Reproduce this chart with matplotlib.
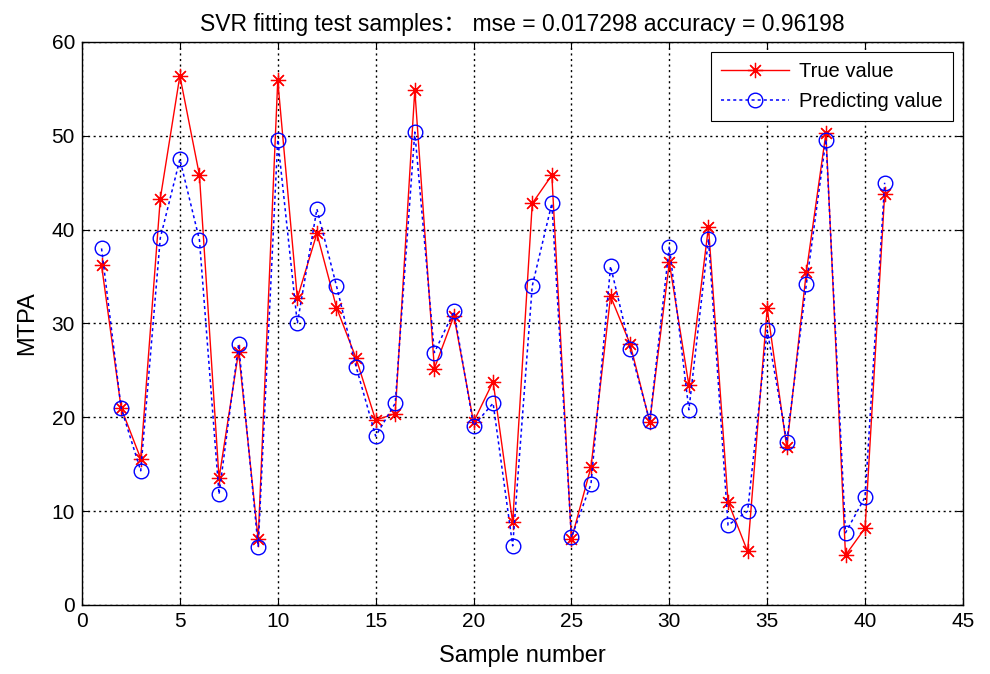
import numpy as np
import matplotlib
matplotlib.use('Agg')
from matplotlib import pyplot as plt

plt.rcParams['font.family'] = ['Liberation Sans', 'Noto Sans CJK SC', 'DejaVu Sans']

# Sample index and values
samples = list(range(1, 42))
true_value = [36.2, 21.0, 15.6, 43.3, 56.4, 45.8, 13.5, 27.0, 7.0, 55.9,
              32.7, 39.6, 31.7, 26.3, 19.7, 20.4, 54.9, 25.2, 30.8, 19.5,
              23.8, 8.8, 42.8, 45.8, 7.0, 14.7, 32.9, 27.8, 19.5, 36.5,
              23.4, 40.3, 11.0, 5.7, 31.6, 16.8, 35.5, 50.3, 5.3, 8.2,
              43.8]
predicting_value = [38.0, 21.0, 14.3, 39.1, 47.5, 38.9, 11.8, 27.8, 6.2, 49.6,
                    30.0, 42.2, 34.0, 25.4, 18.0, 21.5, 50.4, 26.9, 31.3, 19.1,
                    21.5, 6.3, 34.0, 42.8, 7.2, 12.9, 36.1, 27.3, 19.6, 38.2,
                    20.8, 39.0, 8.5, 10.0, 29.3, 17.4, 34.2, 49.6, 7.7, 11.5,
                    45.0]

fig = plt.figure(figsize=(9.9, 6.74), dpi=100)
ax = fig.add_axes([0.0828, 0.1024, 0.8899, 0.8353])

# MATLAB-style asterisk: 8 spokes
ax.plot(samples, true_value, color='red', linestyle='-', linewidth=1.0,
        marker=(8, 2, 0), markersize=11, markeredgewidth=0.9, label='True value')
ax.plot(samples, predicting_value, color='blue', linestyle=(0, (2, 2)), linewidth=1.1,
        marker='o', markersize=10.5, markerfacecolor='none', markeredgewidth=1.0,
        label='Predicting value')

ax.set_xlim(0, 45)
ax.set_ylim(0, 60)
ax.set_xticks(range(0, 46, 5))
ax.set_yticks(range(0, 61, 10))
ax.grid(True, color='black', linestyle=(0, (1.5, 2.5)), linewidth=1.0)
ax.tick_params(direction='in', top=True, right=True, labelsize=15, length=5, pad=5)
for s in ax.spines.values():
    s.set_linewidth(1.0)

ax.set_title('SVR fitting test samples： mse = 0.017298 accuracy = 0.96198', fontsize=16.5, pad=8)
ax.set_xlabel('Sample number', fontsize=17, labelpad=10)
ax.set_ylabel('MTPA', fontsize=17, labelpad=10)

leg = ax.legend(loc='upper right', fontsize=14.5, fancybox=False, edgecolor='black',
                framealpha=1, borderpad=0.5, handlelength=3.4, labelspacing=0.55,
                handletextpad=0.5, borderaxespad=0.5)
leg.get_frame().set_linewidth(0.8)

plt.savefig('out.png', dpi=100)
plt.close()
